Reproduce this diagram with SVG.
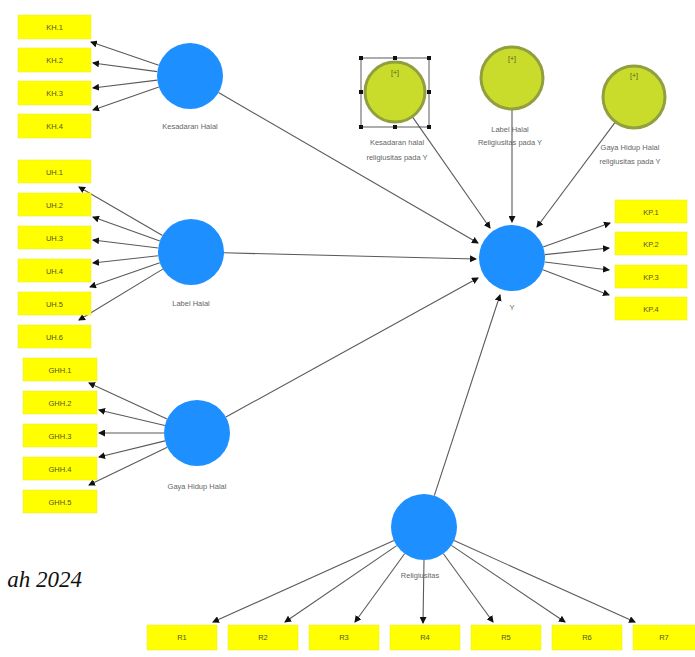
<svg xmlns="http://www.w3.org/2000/svg" width="695" height="657" viewBox="0 0 695 657">
<style>
.ind{fill:#ffff00;stroke:#ecec3a;stroke-width:0.6}
.it{font-family:"Liberation Sans",Arial,sans-serif;font-size:7.5px;fill:#55552a;text-anchor:middle}
.lv{fill:#1e8fff}
.mod{fill:#c9dc2c;stroke:#919f3e;stroke-width:3}
.lbl{font-family:"Liberation Sans",Arial,sans-serif;font-size:7.5px;fill:#666;text-anchor:middle}
.plus{font-family:"Liberation Sans",Arial,sans-serif;font-size:7px;fill:#5a6020;text-anchor:middle}
.c{stroke:#5a5a5a;stroke-width:1.1;fill:none;marker-end:url(#ah)}
.hd{fill:#111}
</style>
<defs>
<marker id="ah" markerWidth="7" markerHeight="7" refX="6" refY="3.5" orient="auto" markerUnits="userSpaceOnUse"><path d="M0,0 L7,3.5 L0,7 z" fill="#111"/></marker>
</defs>
<rect width="695" height="657" fill="#ffffff"/>

<g id="connectors">
<line class="c" x1="158.8" y1="65.3" x2="91" y2="42"/>
<line class="c" x1="157.3" y1="71.6" x2="93" y2="63"/>
<line class="c" x1="157.2" y1="80.1" x2="93" y2="88"/>
<line class="c" x1="158.9" y1="86.9" x2="93" y2="110"/>
<line class="c" x1="162.5" y1="235.4" x2="79" y2="187"/>
<line class="c" x1="159.9" y1="240.9" x2="93" y2="217"/>
<line class="c" x1="158.2" y1="248" x2="93" y2="240"/>
<line class="c" x1="158.2" y1="255.7" x2="93" y2="263"/>
<line class="c" x1="159.8" y1="262.8" x2="90" y2="287"/>
<line class="c" x1="162.8" y1="269.1" x2="79" y2="320"/>
<line class="c" x1="167" y1="419.1" x2="89" y2="383"/>
<line class="c" x1="164.9" y1="425.5" x2="99" y2="410"/>
<line class="c" x1="164" y1="433" x2="99" y2="433"/>
<line class="c" x1="165" y1="440.9" x2="99" y2="457"/>
<line class="c" x1="167.3" y1="447.3" x2="89" y2="485"/>
<line class="c" x1="218.5" y1="92.6" x2="478" y2="243"/>
<line class="c" x1="412.8" y1="117.4" x2="490" y2="228"/>
<line class="c" x1="512" y1="110" x2="512" y2="222"/>
<line class="c" x1="614.9" y1="122.6" x2="537" y2="227"/>
<line class="c" x1="224" y1="252.8" x2="476" y2="259"/>
<line class="c" x1="225.9" y1="417.1" x2="478" y2="278"/>
<line class="c" x1="434.3" y1="495.6" x2="500" y2="295"/>
<line class="c" x1="543.1" y1="246.9" x2="610" y2="223"/>
<line class="c" x1="544.8" y1="254.6" x2="609" y2="248"/>
<line class="c" x1="544.8" y1="262" x2="609" y2="270"/>
<line class="c" x1="542.9" y1="269.7" x2="609" y2="295"/>
<line class="c" x1="393.9" y1="540.6" x2="213" y2="622"/>
<line class="c" x1="396.7" y1="545.6" x2="285" y2="622"/>
<line class="c" x1="404.6" y1="553.7" x2="355" y2="622"/>
<line class="c" x1="424" y1="560" x2="423" y2="623"/>
<line class="c" x1="443.4" y1="553.7" x2="493" y2="622"/>
<line class="c" x1="451.4" y1="545.4" x2="565" y2="622"/>
<line class="c" x1="454.1" y1="540.6" x2="635" y2="622"/>
</g>

<g id="KH1"><rect class="ind" x="18" y="15" width="73" height="24"/><text class="it" x="54.5" y="30">KH.1</text></g>
<g id="KH2"><rect class="ind" x="18" y="48" width="73" height="24"/><text class="it" x="54.5" y="63">KH.2</text></g>
<g id="KH3"><rect class="ind" x="18" y="81" width="73" height="24"/><text class="it" x="54.5" y="96">KH.3</text></g>
<g id="KH4"><rect class="ind" x="18" y="114" width="73" height="24"/><text class="it" x="54.5" y="129">KH.4</text></g>

<g id="UH1"><rect class="ind" x="18" y="160" width="73" height="23"/><text class="it" x="54.5" y="174.5">UH.1</text></g>
<g id="UH2"><rect class="ind" x="18" y="193" width="73" height="23"/><text class="it" x="54.5" y="207.5">UH.2</text></g>
<g id="UH3"><rect class="ind" x="18" y="226" width="73" height="23"/><text class="it" x="54.5" y="240.5">UH.3</text></g>
<g id="UH4"><rect class="ind" x="18" y="259" width="73" height="23"/><text class="it" x="54.5" y="273.5">UH.4</text></g>
<g id="UH5"><rect class="ind" x="18" y="292" width="73" height="23"/><text class="it" x="54.5" y="306.5">UH.5</text></g>
<g id="UH6"><rect class="ind" x="18" y="325" width="73" height="23"/><text class="it" x="54.5" y="339.5">UH.6</text></g>

<g id="GHH1"><rect class="ind" x="23" y="358" width="74" height="23"/><text class="it" x="60" y="372.5">GHH.1</text></g>
<g id="GHH2"><rect class="ind" x="23" y="391" width="74" height="23"/><text class="it" x="60" y="405.5">GHH.2</text></g>
<g id="GHH3"><rect class="ind" x="23" y="424" width="74" height="23"/><text class="it" x="60" y="438.5">GHH.3</text></g>
<g id="GHH4"><rect class="ind" x="23" y="457" width="74" height="23"/><text class="it" x="60" y="471.5">GHH.4</text></g>
<g id="GHH5"><rect class="ind" x="23" y="490" width="74" height="23"/><text class="it" x="60" y="504.5">GHH.5</text></g>

<g id="KP1"><rect class="ind" x="615" y="200" width="72" height="23"/><text class="it" x="651" y="214.5">KP.1</text></g>
<g id="KP2"><rect class="ind" x="615" y="232" width="72" height="23"/><text class="it" x="651" y="246.5">KP.2</text></g>
<g id="KP3"><rect class="ind" x="615" y="265" width="72" height="23"/><text class="it" x="651" y="279.5">KP.3</text></g>
<g id="KP4"><rect class="ind" x="615" y="297" width="72" height="23"/><text class="it" x="651" y="311.5">KP.4</text></g>

<g id="R1"><rect class="ind" x="147" y="625" width="70" height="25"/><text class="it" x="182" y="640">R1</text></g>
<g id="R2"><rect class="ind" x="228" y="625" width="70" height="25"/><text class="it" x="263" y="640">R2</text></g>
<g id="R3"><rect class="ind" x="309" y="625" width="70" height="25"/><text class="it" x="344" y="640">R3</text></g>
<g id="R4"><rect class="ind" x="390" y="625" width="70" height="25"/><text class="it" x="425" y="640">R4</text></g>
<g id="R5"><rect class="ind" x="471" y="625" width="70" height="25"/><text class="it" x="506" y="640">R5</text></g>
<g id="R6"><rect class="ind" x="552" y="625" width="70" height="25"/><text class="it" x="587" y="640">R6</text></g>
<g id="R7"><rect class="ind" x="633" y="625" width="70" height="25"/><text class="it" x="664" y="640">R7</text></g>

<g id="KesadaranHalal"><circle class="lv" cx="190" cy="76" r="33"/><text class="lbl" x="190" y="129">Kesadaran Halal</text></g>
<g id="LabelHalal"><circle class="lv" cx="191" cy="252" r="33"/><text class="lbl" x="191" y="306">Label Halal</text></g>
<g id="GayaHidupHalal"><circle class="lv" cx="197" cy="433" r="33"/><text class="lbl" x="197" y="489">Gaya Hidup Halal</text></g>
<g id="Y"><circle class="lv" cx="512" cy="258" r="33"/><text class="lbl" x="512" y="310">Y</text></g>
<g id="Religiusitas"><circle class="lv" cx="424" cy="527" r="33"/><text class="lbl" x="420" y="578">Religiusitas</text></g>

<g id="ModKH">
<rect x="361" y="58" width="68" height="69" fill="none" stroke="#333" stroke-width="0.8"/>
<circle class="mod" cx="395" cy="92" r="30"/>
<text class="plus" x="395" y="75">[+]</text>
<rect class="hd" x="359" y="56" width="4" height="4"/><rect class="hd" x="393" y="56" width="4" height="4"/><rect class="hd" x="427" y="56" width="4" height="4"/>
<rect class="hd" x="359" y="90" width="4" height="4"/><rect class="hd" x="427" y="90" width="4" height="4"/>
<rect class="hd" x="359" y="125" width="4" height="4"/><rect class="hd" x="393" y="125" width="4" height="4"/><rect class="hd" x="427" y="125" width="4" height="4"/>
<text class="lbl" x="397" y="145">Kesadaran halal</text>
<text class="lbl" x="397" y="160">religiusitas pada Y</text>
</g>
<g id="ModLH">
<circle class="mod" cx="512" cy="78" r="31"/>
<text class="plus" x="512" y="61">[+]</text>
<text class="lbl" x="510" y="132">Label Halal</text>
<text class="lbl" x="510" y="145">Religiusitas pada Y</text>
</g>
<g id="ModGHH">
<circle class="mod" cx="634" cy="97" r="31"/>
<text class="plus" x="634" y="78">[+]</text>
<text class="lbl" x="630" y="150">Gaya Hidup Halal</text>
<text class="lbl" x="630" y="164">religiusitas pada Y</text>
</g>

<text x="82" y="587" font-family="'Liberation Serif','Times New Roman',serif" font-style="italic" font-size="23" fill="#111" text-anchor="end">ah 2024</text>
</svg>
